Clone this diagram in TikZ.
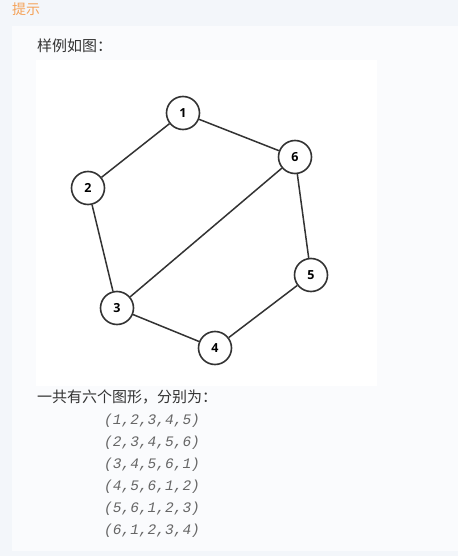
\documentclass[tikz,border=0pt]{standalone}
\usepackage{fontspec}
\setmainfont{Liberation Sans}
\setsansfont{Open Sans}
\setmonofont{Liberation Mono}
\newfontfamily\cjk{Noto Sans CJK SC}
\definecolor{pagebg}{HTML}{F3F6FA}
\definecolor{panelbg}{HTML}{FAFBFD}
\definecolor{tiporange}{HTML}{F5A35A}
\definecolor{ink}{HTML}{333333}
\definecolor{codegray}{HTML}{666666}

\begin{document}
\begin{tikzpicture}[x=1pt,y=-1pt,font=\cjk\fontsize{15}{17}\selectfont,
vert/.style={circle,draw=ink,line width=1.6pt,fill=white,minimum size=33pt,inner sep=0pt,font=\sffamily\bfseries\fontsize{12.5}{13}\selectfont},
edge/.style={draw=ink,line width=1.5pt},
txt/.style={anchor=west,inner sep=0pt,text=ink},
code/.style={anchor=west,inner sep=0pt,text=codegray,font=\ttfamily\itshape\fontsize{14.5}{16}\selectfont}]
\useasboundingbox (0,0) rectangle (458,556);
\fill[pagebg] (0,0) rectangle (458,556);
\fill[panelbg] (12,26) rectangle (458,551);
\fill[white] (36,60) rectangle (377,386);
\node[txt,text=tiporange,font=\cjk\fontsize{14}{16}\selectfont] (tip) at (12,9) {提示};
\node[txt] (intro) at (37,46) {样例如图：};
% graph
\node[vert] (v1) at (183,113) {1};
\node[vert] (v2) at (88,188) {2};
\node[vert] (v3) at (117,308) {3};
\node[vert] (v4) at (215,348) {4};
\node[vert] (v5) at (311,275) {5};
\node[vert] (v6) at (295,157) {6};
\draw[edge] (v1)--(v2);\draw[edge] (v1)--(v6);\draw[edge] (v2)--(v3);\draw[edge] (v3)--(v6);
\draw[edge] (v3)--(v4);\draw[edge] (v4)--(v5);\draw[edge] (v5)--(v6);
% answer
\node[txt] (total) at (37,397) {一共有六个图形，分别为：};
\node[code] (c1) at (104,421) {(1,2,3,4,5)};
\node[code] (c2) at (104,443) {(2,3,4,5,6)};
\node[code] (c3) at (104,465) {(3,4,5,6,1)};
\node[code] (c4) at (104,487) {(4,5,6,1,2)};
\node[code] (c5) at (104,509) {(5,6,1,2,3)};
\node[code] (c6) at (104,531) {(6,1,2,3,4)};
\end{tikzpicture}
\end{document}
